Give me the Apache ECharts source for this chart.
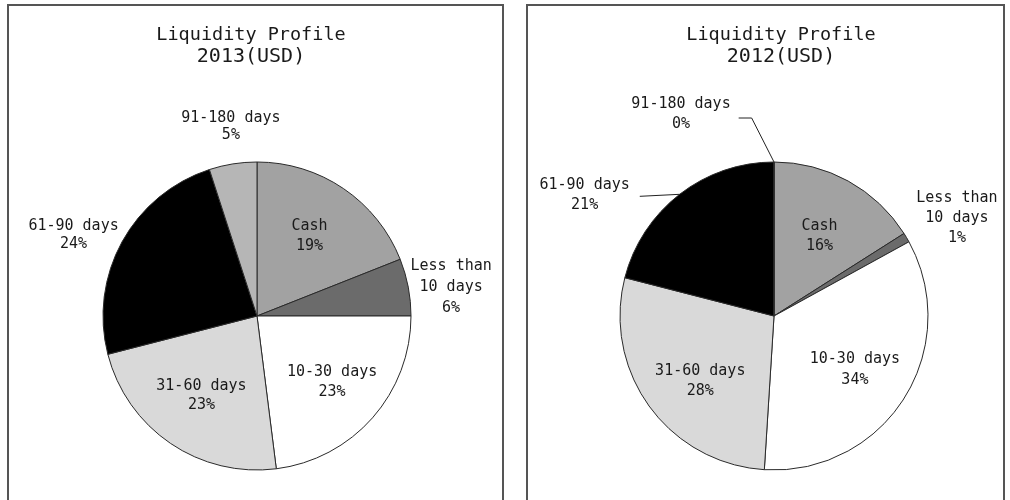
<!DOCTYPE html>
<html>
<head>
<meta charset="utf-8">
<script src="https://cdn.jsdelivr.net/npm/echarts@6/dist/echarts.min.js"></script>
<style>
  html, body { margin: 0; padding: 0; background: #fff; }
  #chart { width: 1010px; height: 500px; }
</style>
</head>
<body>
<div id="chart"></div>
<script>
// data
var categories = ['Cash', 'Less than\n10 days', '10-30 days', '31-60 days', '61-90 days', '91-180 days'];
var values2013 = [19, 6, 23, 23, 24, 5];
var values2012 = [16, 1, 34, 28, 21, 0];
var titles = ['Liquidity Profile', '2013(USD)', '2012(USD)'];

var sliceColors = ['#a2a2a2', '#6b6b6b', '#ffffff', '#d9d9d9', '#000000', '#b6b6b6'];
var font = '"DejaVu Sans Mono", monospace';
var R = 154;

// where each label sits: k = fraction of radius along the slice's middle, then a small nudge
var place2013 = [
  { k: 0.63, dx: -2, dy: 0, lh: 20 },
  { k: 1.27, dx: 2, dy: 8, lh: 21 },
  { k: 0.65, dx: 0, dy: 0, lh: 20 },
  { k: 0.63, dx: -1, dy: -1, lh: 19 },
  { k: 1.3, dx: -8, dy: 16, lh: 18 },
  { k: 1.25, dx: 4, dy: 1, lh: 17 }
];
var place2012 = [
  { k: 0.6, dx: 1, dy: 1, lh: 20 },
  { k: 1.35, dx: 4, dy: 8, lh: 20 },
  { k: 0.63, dx: -1, dy: 2, lh: 21 },
  { k: 0.64, dx: 6, dy: 7, lh: 20 },
  { k: 1, dx: -95, dy: 1, lh: 20, line: { gap: 10, ly: 1, elbow: 0 } },
  { k: 1, dx: -93, dy: -48, lh: 20, line: { gap: 8, ly: 4, elbow: 13 } }
];

function layoutFor(cx, cy, values, places) {
  var total = values.reduce(function (a, b) { return a + b; }, 0);
  return function (p) {
    var i = p.dataIndex;
    var before = 0;
    for (var j = 0; j < i; j++) before += values[j];
    var mid = (before + values[i] / 2) / total * 2 * Math.PI;
    var pl = places[i];
    var ex = cx + R * Math.sin(mid), ey = cy - R * Math.cos(mid);
    var x = cx + pl.k * R * Math.sin(mid) + pl.dx;
    var y = cy - pl.k * R * Math.cos(mid) + pl.dy;
    var out = { x: x, y: y, align: 'center', verticalAlign: 'middle' };
    if (pl.line) {
      var endX = x + p.labelRect.width / 2 + pl.line.gap;
      var endY = y + pl.line.ly;
      out.labelLinePoints = [[ex, ey], [endX + pl.line.elbow, endY], [endX, endY]];
    }
    return out;
  };
}

function pieSeries(cx, cy, values, places) {
  return {
    type: 'pie',
    center: [cx, cy],
    radius: [0, R],
    startAngle: 90,
    clockwise: true,
    avoidLabelOverlap: false,
    silent: true,
    itemStyle: { borderColor: '#2a2a2a', borderWidth: 1 },
    label: {
      show: true,
      position: 'outside',
      fontFamily: font,
      fontSize: 15,
      lineHeight: 20,
      color: '#1a1a1a',
      align: 'center',
      formatter: function (p) { return p.name + '\n' + Math.round(p.percent) + '%'; }
    },
    labelLine: { show: false, lineStyle: { color: '#222', width: 1 } },
    labelLayout: layoutFor(cx, cy, values, places),
    data: values.map(function (v, i) {
      return {
        name: categories[i],
        value: v,
        itemStyle: { color: sliceColors[i] },
        label: { lineHeight: places[i].lh },
        labelLine: { show: !!places[i].line }
      };
    })
  };
}

function titleFor(x, yearText) {
  return {
    text: '{a|' + titles[0] + '}\n{b|' + yearText + '}',
    left: x,
    top: 20,
    textAlign: 'center',
    textStyle: {
      fontWeight: 'normal',
      rich: {
        a: { fontFamily: font, fontSize: 18.5, fontWeight: 'normal', color: '#1a1a1a', lineHeight: 21 },
        b: { fontFamily: font, fontSize: 20, fontWeight: 'normal', color: '#1a1a1a', lineHeight: 22 }
      }
    }
  };
}

var chart = echarts.init(document.getElementById('chart'));
chart.setOption({
  animation: false,
  backgroundColor: '#fff',
  title: [titleFor(246, titles[1]), titleFor(776, titles[2])],
  graphic: [
    { type: 'rect', shape: { x: 8, y: 5, width: 495, height: 520 }, style: { fill: 'none', stroke: '#555', lineWidth: 2 }, silent: true },
    { type: 'rect', shape: { x: 527, y: 5, width: 477, height: 520 }, style: { fill: 'none', stroke: '#555', lineWidth: 2 }, silent: true }
  ],
  series: [
    pieSeries(257, 316, values2013, place2013),
    pieSeries(774, 316, values2012, place2012)
  ]
});
window.addEventListener('resize', function () { chart.resize(); });
</script>
</body>
</html>
